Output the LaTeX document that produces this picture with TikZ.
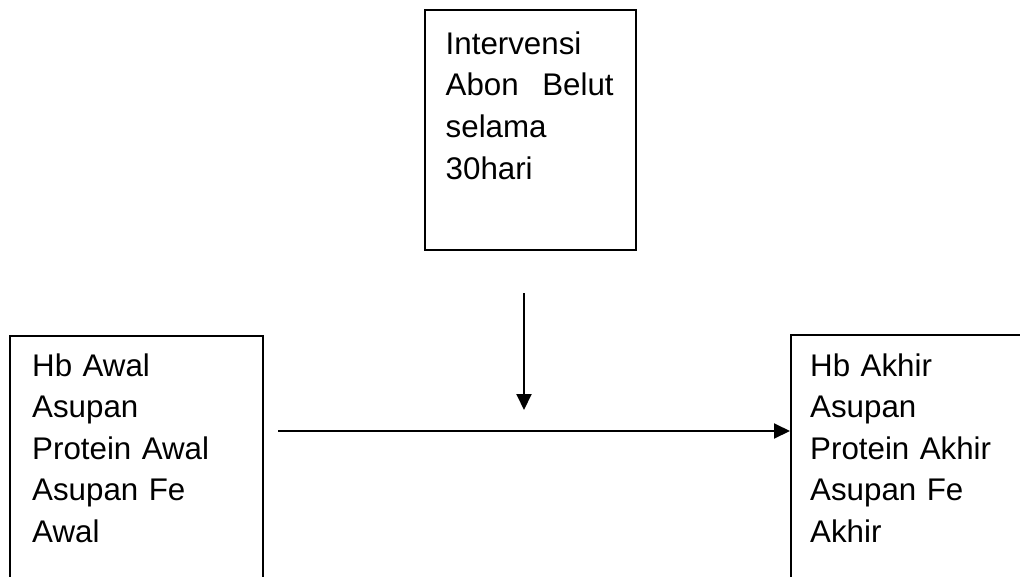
\documentclass[tikz,border=0pt]{standalone}
\usepackage{fontspec}
\setmainfont{Liberation Sans}
\usetikzlibrary{arrows.meta}

\begin{document}
\begin{tikzpicture}[x=1pt, y=-1pt,
  box/.style={draw, line width=1.8pt, rectangle, inner sep=0pt, anchor=north west},
  boxtext/.style={anchor=north west, inner sep=0pt, align=left,
    font=\fontsize{31.3}{41.6}\selectfont},
  flow/.style={line width=1.9pt, -{Triangle[length=16pt, width=15pt]}}]
  \clip (0,0) rectangle (1020,576);

  % intervention box (top)
  \node[box, minimum width=211pt, minimum height=240pt] (treat) at (424,9) {};
  \node[boxtext, text width=168pt] (treattext) at (445.5,31.5)
    {Intervensi\\Abon\hfill Belut\\selama\\30hari};

  % baseline measures (left)
  \node[box, minimum width=253pt, minimum height=280pt] (pre) at (9,335) {};
  \node[boxtext, text width=220pt] (pretext) at (32,353.2)
    {Hb Awal\\Asupan\\Protein Awal\\Asupan Fe\\Awal};

  % final measures (right)
  \node[box, minimum width=260pt, minimum height=280pt] (post) at (790,334) {};
  \node[boxtext, text width=205pt] (posttext) at (810,353.2)
    {Hb Akhir\\Asupan\\Protein Akhir\\Asupan Fe\\Akhir};

  % connectors
  \coordinate (down start) at (524,293);
  \coordinate (down end) at (524,410);
  \coordinate (flow start) at (278,431);
  \draw[flow] (down start) -- (down end);
  \draw[flow] (flow start) -- (flow start -| post.west);
\end{tikzpicture}
\end{document}
